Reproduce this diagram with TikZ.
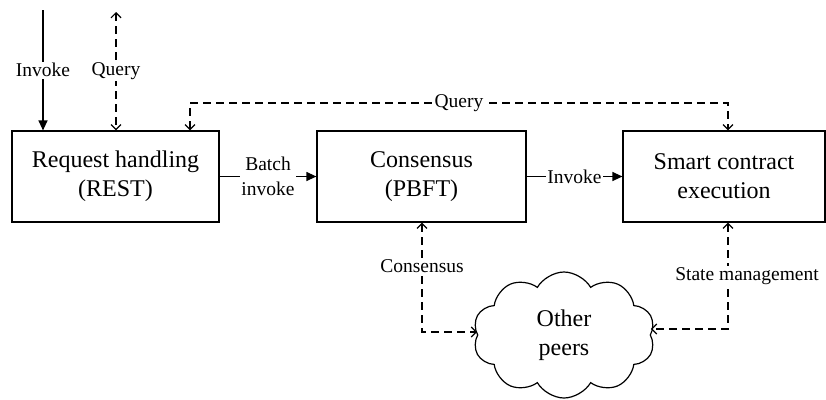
\documentclass[tikz,border=0pt]{standalone}
\usepackage{fontspec}
\setmainfont{Liberation Serif}
\usetikzlibrary{arrows.meta,shapes.symbols}
\newcommand\boxfont{\fontsize{24}{29}\selectfont}
\newcommand\lblfont{\fontsize{19.5}{25}\selectfont}
\tikzset{
  blk/.style={draw, line width=1.2pt, inner sep=0pt, minimum height=91pt, align=center, font=\boxfont},
  lbl/.style={fill=white, inner sep=1.5pt, align=center, font=\lblfont},
  sarrow/.style={line width=1.2pt, -{Triangle[length=10pt,width=9pt]}},
  darrow/.style={line width=1.2pt, dash pattern=on 8pt off 5pt,
     {Straight Barb[length=5pt,width=10pt]}-{Straight Barb[length=5pt,width=10pt]}},
}
\begin{document}
\begin{tikzpicture}[x=1pt,y=-1pt]
\useasboundingbox (0,0) rectangle (826,399);
\node[blk, minimum width=207pt] (b1) at (115.5,176.5) {Request handling\\(REST)};
\node[blk, minimum width=209pt] (b2) at (421.5,176.5) {Consensus\\(PBFT)};
\node[blk, minimum width=202pt] (b3) at (724,176.5) {Smart contract\\execution};
\node[cloud, draw, line width=1.2pt, cloud puffs=10, cloud puff arc=120, aspect=1.4,
      minimum width=182pt, minimum height=126pt, inner sep=0pt, align=center, font=\boxfont]
      (cl) at (564,335) {Other\\peers};
\coordinate (invtop) at (43,10);
\coordinate (qtop) at (116,12);
\coordinate (qa) at (190,103);
\coordinate (qb) at (728,103);
\coordinate (ca) at (422,332);
\coordinate (sa) at (728,329);
\draw[sarrow] (invtop) -- node[lbl, pos=0.5]{Invoke} (invtop |- b1.north);
\draw[darrow] (qtop) -- node[lbl, pos=0.5]{Query} (qtop |- b1.north);
\draw[darrow] (qa |- b1.north) -- (qa) -- node[lbl]{Query} (qb) -- (qb |- b3.north);
\draw[sarrow] (b1.east) -- node[lbl]{Batch\\invoke} (b2.west);
\draw[sarrow] (b2.east) -- node[lbl]{Invoke} (b3.west);
\draw[darrow] (ca |- b2.south) -- node[lbl, pos=0.4]{Consensus} (ca) -- (ca -| cl.west);
\draw[darrow] (sa |- b3.south) -- node[lbl, pos=0.5, xshift=19pt]{State management} (sa) -- (sa -| cl.east);
\end{tikzpicture}
\end{document}
